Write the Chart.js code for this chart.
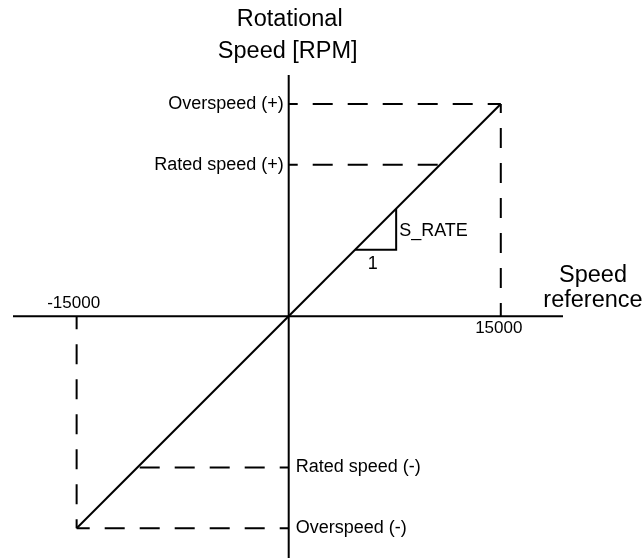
<!DOCTYPE html>
<html>
<head>
<meta charset="utf-8">
<script src="https://cdn.jsdelivr.net/npm/chart.js@4/dist/chart.umd.min.js"></script>
<style>
  html, body { margin: 0; padding: 0; background: #fff; }
  canvas { display: block; }
</style>
</head>
<body>
<canvas id="speedChart" width="642" height="558"></canvas>
<script>
// speed reference range and the characteristic line through the origin
const speedRef = [-15000, 15000];
const rotSpeed = [-15000, 15000];

// speed limits on the rotational speed axis
const levelNames = ['Overspeed (+)', 'Rated speed (+)', 'Rated speed (-)', 'Overspeed (-)'];
const levelValues = [15000, 10700, -10700, -15000];

// tick labels on the speed reference axis
const xTickValues = [-15000, 15000];
const xTickLabels = ['-15000', '15000'];

// slope triangle (run 1 -> rise S_RATE)
const slopeX = [4700, 7600, 7600];
const slopeY = [4700, 4700, 7600];

const FONT = '"Liberation Sans", Arial, sans-serif';
const DASH = [20, 15];

function pts(xs, ys) {
    return xs.map((x, i) => ({ x: x, y: ys[i] }));
}

function solid(data) {
    return { data: data, showLine: true, borderColor: '#000', borderWidth: 2,
             pointRadius: 0, fill: false, tension: 0 };
}

function dashed(data) {
    return { data: data, showLine: true, borderColor: '#000', borderWidth: 2,
             borderDash: DASH, borderDashOffset: 11, pointRadius: 0, fill: false, tension: 0 };
}

const over = levelValues[0], rated = levelValues[1], ratedNeg = levelValues[2], underOver = levelValues[3];

const datasets = [
    solid(pts(speedRef, rotSpeed)),
    // limit lines, drawn from the axis outwards
    dashed(pts([0, speedRef[1]], [over, over])),
    dashed(pts([speedRef[1], speedRef[1]], [over, 0])),
    dashed(pts([0, rated], [rated, rated])),
    dashed(pts([0, ratedNeg], [ratedNeg, ratedNeg])),
    dashed(pts([0, speedRef[0]], [underOver, underOver])),
    dashed(pts([speedRef[0], speedRef[0]], [underOver, 0])),
    solid(pts(slopeX, slopeY))
];

// cross-shaped axes through zero plus all annotation text
const axesPlugin = {
    id: 'axesAndText',
    beforeDatasetsDraw(chart) {
        const ctx = chart.ctx, a = chart.chartArea;
        const x0 = chart.scales.x.getPixelForValue(0);
        const y0 = chart.scales.y.getPixelForValue(0);
        ctx.save();
        ctx.strokeStyle = '#000';
        ctx.lineWidth = 2;
        ctx.beginPath();
        ctx.moveTo(a.left, y0); ctx.lineTo(a.right, y0);
        ctx.moveTo(x0, a.top); ctx.lineTo(x0, a.bottom);
        ctx.stroke();
        ctx.restore();
    },
    afterDraw(chart) {
        const ctx = chart.ctx, a = chart.chartArea;
        const xs = chart.scales.x, ys = chart.scales.y;
        const x0 = xs.getPixelForValue(0);
        const y0 = ys.getPixelForValue(0);
        ctx.save();
        ctx.fillStyle = '#000';
        ctx.textBaseline = 'middle';

        // axis titles
        ctx.font = '23.5px ' + FONT;
        ctx.textAlign = 'center';
        ctx.fillText('Rotational', x0 + 1, a.top - 55);
        ctx.fillText('Speed [RPM]', x0 - 1, a.top - 23);
        ctx.fillText('Speed', a.right + 30, y0 - 41);
        ctx.fillText('reference', a.right + 30, y0 - 16);

        // level labels beside the vertical axis
        ctx.font = '18px ' + FONT;
        levelNames.forEach((name, i) => {
            const y = ys.getPixelForValue(levelValues[i]);
            if (levelValues[i] > 0) {
                ctx.textAlign = 'right';
                ctx.fillText(name, x0 - 5, y);
            } else {
                ctx.textAlign = 'left';
                ctx.fillText(name, x0 + 7, y);
            }
        });

        // tick labels on the horizontal axis
        ctx.font = '17px ' + FONT;
        ctx.textAlign = 'center';
        xTickLabels.forEach((label, i) => {
            const x = xs.getPixelForValue(xTickValues[i]);
            if (xTickValues[i] < 0) ctx.fillText(label, x - 3, y0 - 13);
            else ctx.fillText(label, x - 2, y0 + 12);
        });

        // slope triangle labels
        ctx.font = '18px ' + FONT;
        const runMid = xs.getPixelForValue((slopeX[0] + slopeX[1]) / 2);
        const base = ys.getPixelForValue(slopeY[0]);
        ctx.fillText('1', runMid - 3, base + 14);
        ctx.textAlign = 'left';
        const riseMid = ys.getPixelForValue((slopeY[1] + slopeY[2]) / 2);
        ctx.fillText('S_RATE', xs.getPixelForValue(slopeX[1]) + 3, riseMid + 2);
        ctx.restore();
    }
};

new Chart(document.getElementById('speedChart'), {
    type: 'scatter',
    data: { datasets: datasets },
    options: {
        responsive: false,
        animation: false,
        layout: { padding: { left: 13, right: 79, top: 75, bottom: 0 } },
        plugins: { legend: { display: false }, tooltip: { enabled: false } },
        scales: {
            x: { type: 'linear', min: -19500, max: 19400, display: false },
            y: { type: 'linear', min: -17100, max: 17050, display: false }
        }
    },
    plugins: [axesPlugin]
});
</script>
</body>
</html>
